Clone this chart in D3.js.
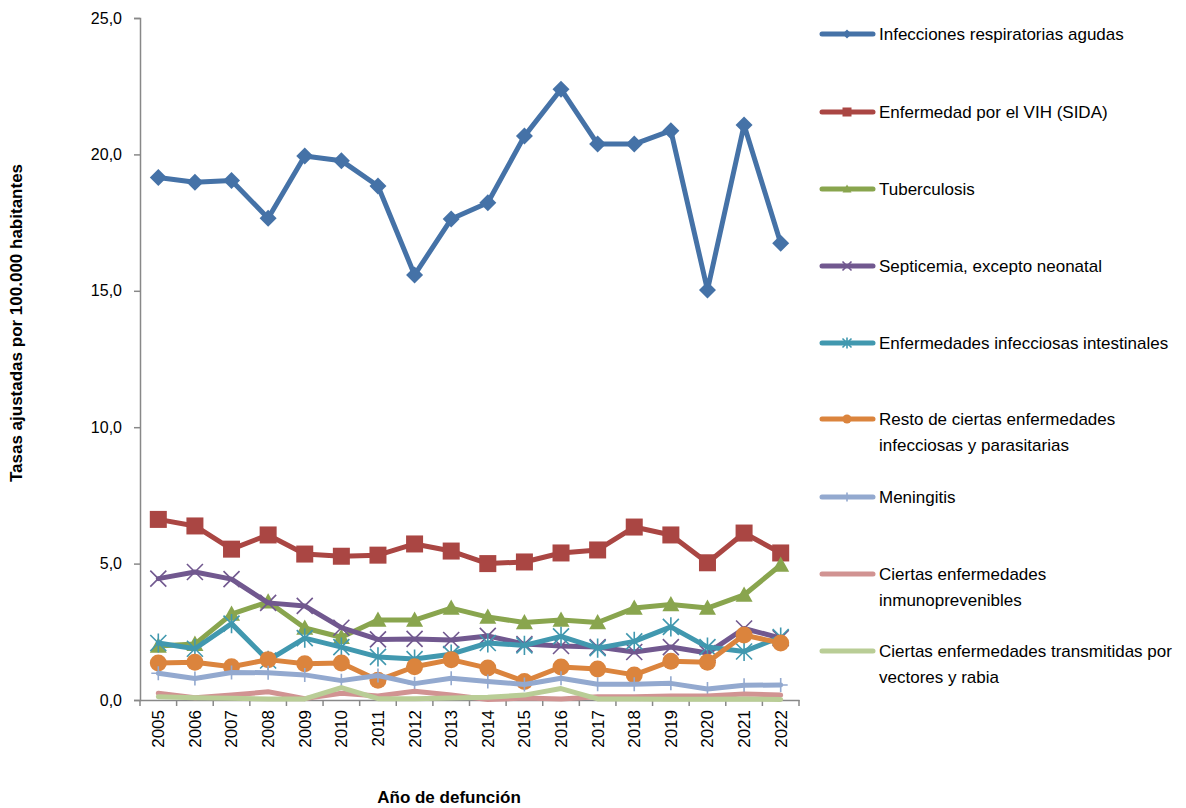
<!DOCTYPE html>
<html><head><meta charset="utf-8">
<script src="https://cdn.jsdelivr.net/npm/d3@7"></script>
<style>body{margin:0;background:#fff}svg{display:block;font-family:"Liberation Sans",Arial,sans-serif}</style>
</head><body><svg id="c" width="1186" height="808"></svg>
<script>
const years = ["2005","2006","2007","2008","2009","2010","2011","2012","2013","2014","2015","2016","2017","2018","2019","2020","2021","2022"];
const seriesNames = ["Infecciones respiratorias agudas","Enfermedad por el VIH (SIDA)","Tuberculosis","Septicemia, excepto neonatal","Enfermedades infecciosas intestinales","Resto de ciertas enfermedades infecciosas y parasitarias","Meningitis","Ciertas enfermedades inmunoprevenibles","Ciertas enfermedades transmitidas por vectores y rabia"];
const ira    = [19.15,18.98,19.04,17.66,19.94,19.77,18.84,15.58,17.63,18.23,20.67,22.39,20.38,20.38,20.87,15.03,21.08,16.74];
const vih    = [6.62,6.38,5.53,6.05,5.35,5.27,5.31,5.72,5.46,5.00,5.06,5.39,5.50,6.34,6.05,5.03,6.12,5.39];
const tb     = [1.98,2.05,3.15,3.60,2.64,2.30,2.93,2.93,3.37,3.04,2.84,2.93,2.84,3.37,3.50,3.37,3.85,4.95];
const sept   = [4.45,4.69,4.43,3.56,3.45,2.65,2.22,2.24,2.20,2.35,2.05,1.98,1.94,1.76,1.94,1.72,2.62,2.27];
const intest = [2.09,1.88,2.80,1.45,2.27,1.94,1.58,1.50,1.68,2.09,2.00,2.33,1.90,2.15,2.68,1.94,1.78,2.31];
const resto  = [1.36,1.38,1.22,1.48,1.33,1.36,0.72,1.22,1.48,1.17,0.68,1.21,1.14,0.92,1.42,1.38,2.38,2.09];
const menin  = [0.98,0.79,1.01,1.00,0.92,0.71,0.90,0.60,0.80,0.68,0.57,0.80,0.58,0.58,0.61,0.40,0.54,0.55];
const inmuno = [0.25,0.08,0.18,0.30,0.05,0.25,0.15,0.32,0.18,0.02,0.07,0.04,0.12,0.12,0.15,0.15,0.22,0.18];
const vect   = [0.12,0.08,0.06,0.04,0.04,0.45,0.05,0.05,0.07,0.10,0.18,0.42,0.04,0.04,0.03,0.03,0.04,0.02];
const yTicks = [0,5,10,15,20,25];

const allValues = [ira,vih,tb,sept,intest,resto,menin,inmuno,vect];
const colors = ["#4572A7","#AA4643","#89A54E","#71588F","#4198AF","#DB843D","#93A9CF","#D19392","#B9CD96"];
const markers = ["diamond","square","triangle","x","star","circle","plus",null,null];

const svg = d3.select("#c");
const L = 140, R = 799, T = 18, B = 700;
const x = d3.scaleBand().domain(years).range([L, R]);
const y = d3.scaleLinear().domain([0, 25]).range([B, T]);

// Y axis
const yAxis = svg.append("g").attr("transform", `translate(${L},0)`)
  .call(d3.axisLeft(y).tickValues(yTicks).tickSize(6).tickFormat(d => d3.format(".1f")(d).replace(".", ",")));
yAxis.select(".domain").attr("stroke", "#888").attr("stroke-width", 1.5);
yAxis.selectAll(".tick line").attr("stroke", "#888").attr("stroke-width", 1.5);
yAxis.selectAll(".tick text").attr("font-size", 16).attr("fill", "#000").attr("x", -18)
  .attr("font-family", '"Liberation Sans",Arial,sans-serif');

// X axis
const xAxis = svg.append("g").attr("transform", `translate(0,${B})`)
  .call(d3.axisBottom(x).tickSize(0).tickSizeOuter(0));
xAxis.select(".domain").attr("stroke", "#888").attr("stroke-width", 1.5);
xAxis.selectAll(".tick text").attr("font-size", 17).attr("fill", "#000")
  .attr("font-family", '"Liberation Sans",Arial,sans-serif')
  .attr("transform", "rotate(-90)").attr("text-anchor", "end")
  .attr("x", -10).attr("y", 0).attr("dy", "0.35em");
const bounds = years.map(d => x(d)).concat([x(years[years.length-1]) + x.bandwidth()]);
svg.append("g").selectAll("line").data(bounds).join("line")
  .attr("x1", d => d).attr("x2", d => d).attr("y1", B).attr("y2", B + 6)
  .attr("stroke", "#888").attr("stroke-width", 1.5);

// Axis titles
svg.append("text").attr("transform", `translate(22,323) rotate(-90)`)
  .attr("text-anchor", "middle").attr("font-size", 17).attr("font-weight", "bold")
  .text("Tasas ajustadas por 100.000 habitantes");
svg.append("text").attr("x", 449).attr("y", 803).attr("text-anchor", "middle")
  .attr("font-size", 17).attr("font-weight", "bold").text("Año de defunción");

function drawMarker(g, type, color, s) {
  if (!type) return;
  if (type === "diamond") g.append("path").attr("d", `M0,${-s}L${s},0L0,${s}L${-s},0Z`).attr("fill", color);
  else if (type === "square") g.append("rect").attr("x", -s).attr("y", -s).attr("width", 2*s).attr("height", 2*s).attr("fill", color);
  else if (type === "triangle") g.append("path").attr("d", `M0,${-s}L${s},${s*0.8}L${-s},${s*0.8}Z`).attr("fill", color);
  else if (type === "circle") g.append("circle").attr("r", s).attr("fill", color);
  else if (type === "x") g.append("path").attr("d", `M${-s},${-s}L${s},${s}M${-s},${s}L${s},${-s}`).attr("stroke", color).attr("stroke-width", 1.6);
  else if (type === "star") g.append("path").attr("d", `M${-s},${-s}L${s},${s}M${-s},${s}L${s},${-s}M0,${-s*1.2}L0,${s*1.2}`).attr("stroke", color).attr("stroke-width", 1.6);
  else if (type === "plus") g.append("path").attr("d", `M0,${-s}L0,${s}M${-s},0L${s},0`).attr("stroke", color).attr("stroke-width", 1.6);
}
const mSize = {diamond: 8.5, square: 8.5, triangle: 8.5, circle: 8.5, x: 8, star: 8, plus: 7};

const line = d3.line().x((d, i) => x(years[i]) + x.bandwidth() / 2).y(d => y(d));
const plot = svg.append("g");
allValues.forEach((vals, k) => {
  const g = plot.append("g");
  g.append("path").attr("d", line(vals)).attr("fill", "none").attr("stroke", colors[k])
    .attr("stroke-width", 5).attr("stroke-linejoin", "round").attr("stroke-linecap", "round");
  vals.forEach((v, i) => {
    const mg = g.append("g").attr("transform", `translate(${x(years[i]) + x.bandwidth() / 2},${y(v)})`);
    drawMarker(mg, markers[k], colors[k], mSize[markers[k]]);
  });
});

// Legend
const legendY = [34, 112, 189, 266, 343, 419, 497, 574, 651];
const legendLines = [["Infecciones respiratorias agudas"],["Enfermedad por el VIH (SIDA)"],["Tuberculosis"],["Septicemia, excepto neonatal"],["Enfermedades infecciosas intestinales"],["Resto de ciertas enfermedades","infecciosas y parasitarias"],["Meningitis"],["Ciertas enfermedades","inmunoprevenibles"],["Ciertas enfermedades transmitidas por","vectores y rabia"]];
const lg = svg.append("g");
seriesNames.forEach((n, k) => {
  const g = lg.append("g").attr("transform", `translate(0,${legendY[k]})`);
  g.append("line").attr("x1", 822).attr("x2", 873).attr("y1", 0).attr("y2", 0)
    .attr("stroke", colors[k]).attr("stroke-width", 5).attr("stroke-linecap", "round");
  const mg = g.append("g").attr("transform", "translate(847,0)");
  drawMarker(mg, markers[k], colors[k], 4.5);
  const t = g.append("text").attr("x", 879).attr("y", 0).attr("font-size", 17).attr("fill", "#000");
  legendLines[k].forEach((ln, j) => t.append("tspan").attr("x", 879).attr("dy", j === 0 ? "0.35em" : "26").text(ln));
});
</script></body></html>
